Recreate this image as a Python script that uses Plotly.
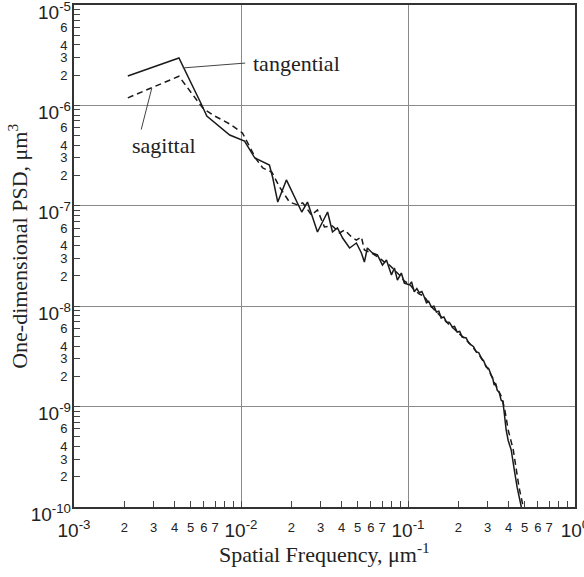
import plotly.graph_objects as go

# PSD (spatial frequency in 1/um, PSD in um^3)
freq_tan = [0.0021, 0.00425, 0.00582, 0.00624, 0.00856, 0.0105, 0.0121, 0.0148, 0.0155,
            0.0166, 0.0187, 0.0218, 0.0231, 0.0250, 0.0287, 0.0330, 0.0353, 0.0378, 0.0406,
            0.0447, 0.0491, 0.0526, 0.0548, 0.0571, 0.0612, 0.0656, 0.0703, 0.0743, 0.0796,
            0.0829, 0.0864, 0.0912, 0.0951, 0.102, 0.105, 0.109, 0.113, 0.117, 0.121, 0.125,
            0.129, 0.133, 0.138, 0.143, 0.148, 0.153, 0.158, 0.164, 0.170, 0.177, 0.184,
            0.190, 0.197, 0.204, 0.211, 0.223, 0.231, 0.239, 0.247, 0.256, 0.265, 0.275,
            0.284, 0.294, 0.304, 0.315, 0.321, 0.328, 0.335, 0.342, 0.352, 0.361, 0.370,
            0.377, 0.387, 0.398, 0.415, 0.433, 0.451, 0.477]
psd_tan = [1.96e-6, 2.97e-6, 1.01e-6, 7.83e-7, 5.07e-7, 4.42e-7, 2.99e-7, 2.55e-7, 1.89e-7,
           1.09e-7, 1.81e-7, 1.07e-7, 8.67e-8, 1.09e-7, 5.48e-8, 8.67e-8, 5.48e-8, 6.01e-8, 4.78e-8,
           3.80e-8, 4.26e-8, 3.39e-8, 2.75e-8, 3.80e-8, 3.39e-8, 3.24e-8, 2.57e-8, 2.88e-8, 2.05e-8,
           2.40e-8, 1.82e-8, 2.14e-8, 1.70e-8, 1.63e-8, 1.75e-8, 1.39e-8, 1.50e-8, 1.36e-8, 1.40e-8, 1.24e-8,
           1.08e-8, 1.12e-8, 9.82e-9, 1.00e-8, 8.75e-9, 8.90e-9, 7.63e-9, 7.80e-9, 6.96e-9, 6.90e-9, 6.21e-9,
           6.30e-9, 5.53e-9, 5.60e-9, 4.93e-9, 4.82e-9, 4.30e-9, 4.11e-9, 3.95e-9, 3.50e-9, 3.45e-9, 3.05e-9,
           2.85e-9, 2.48e-9, 2.40e-9, 2.06e-9, 1.95e-9, 1.64e-9, 1.70e-9, 1.46e-9, 1.38e-9, 1.16e-9, 1.12e-9,
           8.63e-10, 5.85e-10, 4.60e-10, 3.70e-10, 2.34e-10, 1.55e-10, 1.0e-10]

freq_sag = [0.0021, 0.00292, 0.00425, 0.0059, 0.00678, 0.00856, 0.0102, 0.0113, 0.0122, 0.0135,
            0.0153, 0.0170, 0.0182, 0.0195, 0.0218, 0.0234, 0.0247, 0.0264, 0.0287, 0.0316,
            0.0353, 0.0389, 0.0417, 0.0459, 0.0491, 0.0526, 0.0548, 0.0604, 0.0675, 0.0723,
            0.0774, 0.0829, 0.0888, 0.0951, 0.102, 0.109, 0.117, 0.125, 0.134, 0.144, 0.154,
            0.165, 0.177, 0.189, 0.203, 0.217, 0.233, 0.249, 0.267, 0.286, 0.306, 0.328,
            0.342, 0.366, 0.382, 0.398, 0.427, 0.445, 0.463, 0.490]
psd_sag = [1.19e-6, 1.49e-6, 1.95e-6, 9.42e-7, 8.02e-7, 6.53e-7, 5.31e-7, 3.85e-7, 2.99e-7, 2.38e-7,
           2.17e-7, 1.54e-7, 1.28e-7, 1.09e-7, 1.02e-7, 1.07e-7, 9.51e-8, 8.10e-8, 9.08e-8, 6.15e-8,
           6.30e-8, 5.36e-8, 5.74e-8, 4.89e-8, 4.56e-8, 4.89e-8, 3.63e-8, 3.39e-8, 3.02e-8, 2.75e-8,
           2.57e-8, 2.30e-8, 2.05e-8, 1.78e-8, 1.66e-8, 1.45e-8, 1.32e-8, 1.26e-8, 1.05e-8, 9.17e-9, 8.17e-9,
           7.29e-9, 6.50e-9, 5.93e-9, 5.29e-9, 4.82e-9, 4.30e-9, 3.75e-9, 3.27e-9, 2.72e-9, 2.26e-9, 1.76e-9,
           1.53e-9, 1.22e-9, 8.83e-10, 5.85e-10, 3.70e-10, 2.34e-10, 1.55e-10, 1.0e-10]

# tick positions / labels
dec_x = [1e-3, 1e-2, 1e-1, 1e0]
dec_x_text = ["10<sup>-3</sup>", "10<sup>-2</sup>", "10<sup>-1</sup>", "10<sup>0</sup>"]
dec_y = [1e-10, 1e-9, 1e-8, 1e-7, 1e-6, 1e-5]
dec_y_text = ["10<sup>-10</sup>", "10<sup>-9</sup>", "10<sup>-8</sup>",
              "10<sup>-7</sup>", "10<sup>-6</sup>", "10<sup>-5</sup>"]
minor_x_labels = ["", "2", "3", "4", "5", "6", "7", "", ""]   # for 1..9
minor_y_labels = ["", "2", "3", "4", "", "6", "", "", ""]


def build_ticks(decades, minor_labels):
    # decade ticks get no text here: their labels live on the overlay axes
    vals, text = [], []
    for i, d in enumerate(decades):
        vals.append(d)
        text.append("")
        if i == len(decades) - 1:
            break
        for m in range(2, 10):
            vals.append(d * m)
            text.append(minor_labels[m - 1])
    return vals, text


xv, xt = build_ticks(dec_x, minor_x_labels)
yv, yt = build_ticks(dec_y, minor_y_labels)

fig = go.Figure()
fig.add_trace(go.Scatter(x=freq_tan, y=psd_tan, mode="lines", name="tangential",
                         line=dict(color="#1a1a1a", width=1.5)))
fig.add_trace(go.Scatter(x=freq_sag, y=psd_sag, mode="lines", name="sagittal",
                         line=dict(color="#1a1a1a", width=1.5, dash="6px,4px")))
# empty trace so the overlay axes (decade grid + decade labels) get drawn
fig.add_trace(go.Scatter(x=[], y=[], xaxis="x2", yaxis="y2", showlegend=False))

minor_font = dict(family="Liberation Sans, Arial", size=13, color="#222")
major_font = dict(family="Liberation Sans, Arial", size=19, color="#222")
axis_common = dict(type="log", showgrid=False, ticks="inside", ticklen=6, tickwidth=1,
                   tickcolor="#444", showline=True, linecolor="#333", linewidth=2,
                   mirror=True, tickmode="array", tickfont=minor_font, zeroline=False,
                   ticklabeloverflow="allow", automargin=False)
grid_common = dict(type="log", tickmode="array", ticks="", showgrid=True, gridcolor="#8a8a8a",
                   gridwidth=1, showline=False, zeroline=False, automargin=False,
                   tickfont=major_font, ticklabeloverflow="allow")
fig.update_layout(
    width=584, height=577,
    margin=dict(l=74, r=9, t=5, b=70),
    paper_bgcolor="white", plot_bgcolor="white",
    showlegend=False,
    xaxis=dict(range=[-3, 0], tickvals=xv, ticktext=xt, ticklabelstandoff=7, **axis_common),
    yaxis=dict(range=[-10, -5], tickvals=yv, ticktext=yt, ticklabelstandoff=2, **axis_common),
    xaxis2=dict(range=[-3, 0], overlaying="x", anchor="y2", side="bottom",
                tickvals=dec_x, ticktext=dec_x_text, ticklabelstandoff=10, **grid_common),
    yaxis2=dict(range=[-10, -5], overlaying="y", anchor="x2", side="left",
                tickvals=dec_y, ticktext=dec_y_text, ticklabelstandoff=2, ticklabelshift=7,
                **grid_common),
)

serif = dict(family="Liberation Serif, Times New Roman", size=22, color="#222")
fig.add_annotation(text="Spatial Frequency, μm<sup>-1</sup>", xref="paper", yref="paper",
                   x=0.5, y=-0.092, xanchor="center", yanchor="middle", showarrow=False,
                   font=serif)
fig.add_annotation(text="One-dimensional PSD, μm<sup>3</sup>", xref="paper", yref="paper",
                   x=-0.112, y=0.52, xanchor="center", yanchor="middle", textangle=-90,
                   showarrow=False, font=serif)

# curve labels with leader lines
fig.add_annotation(text="tangential", x=-1.667, y=-5.578, xref="x", yref="y",
                   showarrow=False, font=serif)
fig.add_annotation(text="", x=-2.349, y=-5.627, xref="x", yref="y", showarrow=True,
                   arrowhead=0, arrowwidth=1, arrowcolor="#444", ax=64, ay=-5)
fig.add_annotation(text="sagittal", x=-2.462, y=-6.404, xref="x", yref="y",
                   showarrow=False, font=serif)
fig.add_annotation(text="", x=-2.534, y=-5.827, xref="x", yref="y", showarrow=True,
                   arrowhead=0, arrowwidth=1, arrowcolor="#444", ax=-11, ay=43)

# the page body has a default 8px margin; drop it so the figure sits at the window corner
fig.write_html("out.html", config={"displayModeBar": False},
               post_script="document.body.style.margin='0';")
